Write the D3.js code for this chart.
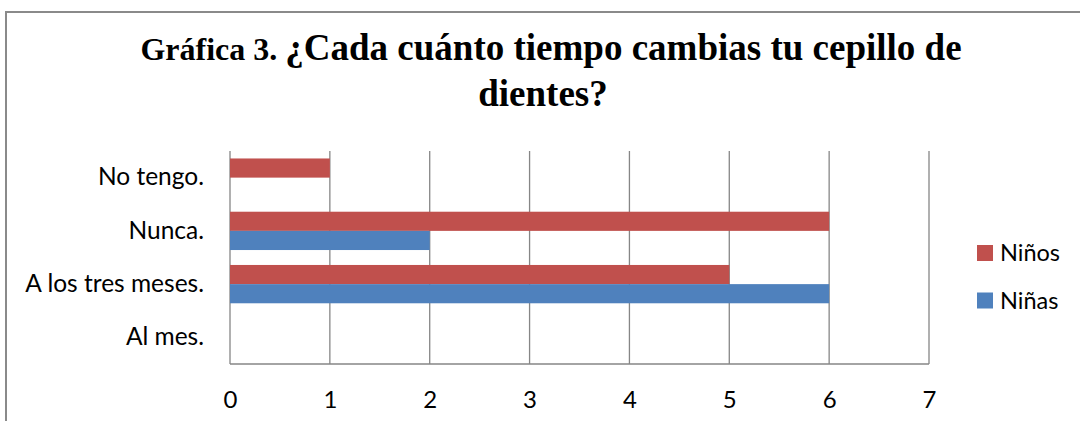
<!DOCTYPE html>
<html>
<head>
<meta charset="utf-8">
<script src="https://cdn.jsdelivr.net/npm/d3@7/dist/d3.min.js"></script>
<style>
  body { margin: 0; background: #fff; }
  svg text { fill: #000; }
</style>
</head>
<body>
<div id="chart"></div>
<script>
// categories from top to bottom as drawn
var categories = ["No tengo.", "Nunca.", "A los tres meses.", "Al mes."];
var ninos = [1, 6, 5, 0];
var ninas = [0, 2, 6, 0];
var seriesNames = ["Niños", "Niñas"];
var xTicks = [0, 1, 2, 3, 4, 5, 6, 7];

var width = 1080, height = 421;
var colors = { "Niños": "#C0504D", "Niñas": "#4F81BD" };
var labelFont = "Lato, 'Open Sans', sans-serif";
var titleFont = "'Liberation Serif', 'Times New Roman', serif";

var svg = d3.select("#chart").append("svg")
    .attr("width", width)
    .attr("height", height);

// outer chart border (runs off the right and bottom)
svg.append("rect")
    .attr("x", 6).attr("y", 12)
    .attr("width", 1100).attr("height", 440)
    .attr("fill", "none")
    .attr("stroke", "#8a8a8a")
    .attr("stroke-width", 2);

// title
var title = svg.append("text")
    .attr("x", 551).attr("y", 60)
    .attr("text-anchor", "middle")
    .attr("font-family", titleFont)
    .attr("font-weight", "bold");
title.append("tspan").attr("font-size", 32).text("Gráfica 3. ");
title.append("tspan").attr("font-size", 37)
    .text("¿Cada cuánto tiempo cambias tu cepillo de");
svg.append("text")
    .attr("x", 543).attr("y", 106)
    .attr("text-anchor", "middle")
    .attr("font-family", titleFont)
    .attr("font-weight", "bold")
    .attr("font-size", 37)
    .text("dientes?");

var x = d3.scaleLinear().domain([0, 7]).range([230, 929]);
var y = d3.scaleBand().domain(categories).range([151, 364]);
var inner = d3.scaleBand().domain(seriesNames).range([0, y.bandwidth()]).paddingOuter(0.39);

// vertical gridlines
svg.append("g")
    .selectAll("line")
    .data(xTicks)
    .enter().append("line")
    .attr("x1", function(d) { return x(d); })
    .attr("x2", function(d) { return x(d); })
    .attr("y1", 151).attr("y2", 364)
    .attr("stroke", "#868686")
    .attr("stroke-width", 1.3);

// bars
var rows = categories.map(function(c, i) {
  return { cat: c, "Niños": ninos[i], "Niñas": ninas[i] };
});
seriesNames.forEach(function(s) {
  svg.append("g")
      .selectAll("rect")
      .data(rows.filter(function(r) { return r[s] > 0; }))
      .enter().append("rect")
      .attr("x", x(0))
      .attr("y", function(r) { return y(r.cat) + inner(s); })
      .attr("width", function(r) { return x(r[s]) - x(0); })
      .attr("height", inner.bandwidth())
      .attr("fill", colors[s]);
});

// bottom axis line
svg.append("line")
    .attr("x1", x(0)).attr("x2", x(7))
    .attr("y1", 364).attr("y2", 364)
    .attr("stroke", "#868686").attr("stroke-width", 1.3);

// x tick labels
var xAxis = d3.axisBottom(x).tickValues(xTicks).tickFormat(d3.format("d")).tickSize(0).tickPadding(0);
var gx = svg.append("g").attr("transform", "translate(0,391)").call(xAxis);
gx.select(".domain").remove();
gx.selectAll("text")
    .attr("font-family", labelFont)
    .attr("font-size", 24)
    .attr("dy", "0.72em")
    .attr("fill", "#000");

// category labels
var yAxis = d3.axisLeft(y).tickSize(0).tickPadding(0);
var gy = svg.append("g").attr("transform", "translate(204,0)").call(yAxis);
gy.select(".domain").remove();
gy.selectAll("text")
    .attr("font-family", labelFont)
    .attr("font-size", 24.5)
    .attr("fill", "#000");

// legend
var legend = svg.append("g").attr("transform", "translate(977,245)");
seriesNames.forEach(function(s, i) {
  var g = legend.append("g").attr("transform", "translate(0," + (i * 47.5) + ")");
  g.append("rect").attr("width", 16).attr("height", 16).attr("fill", colors[s]);
  g.append("text")
      .attr("x", 23).attr("y", 16)
      .attr("font-family", labelFont)
      .attr("font-size", 23.5)
      .text(s);
});
</script>
</body>
</html>
